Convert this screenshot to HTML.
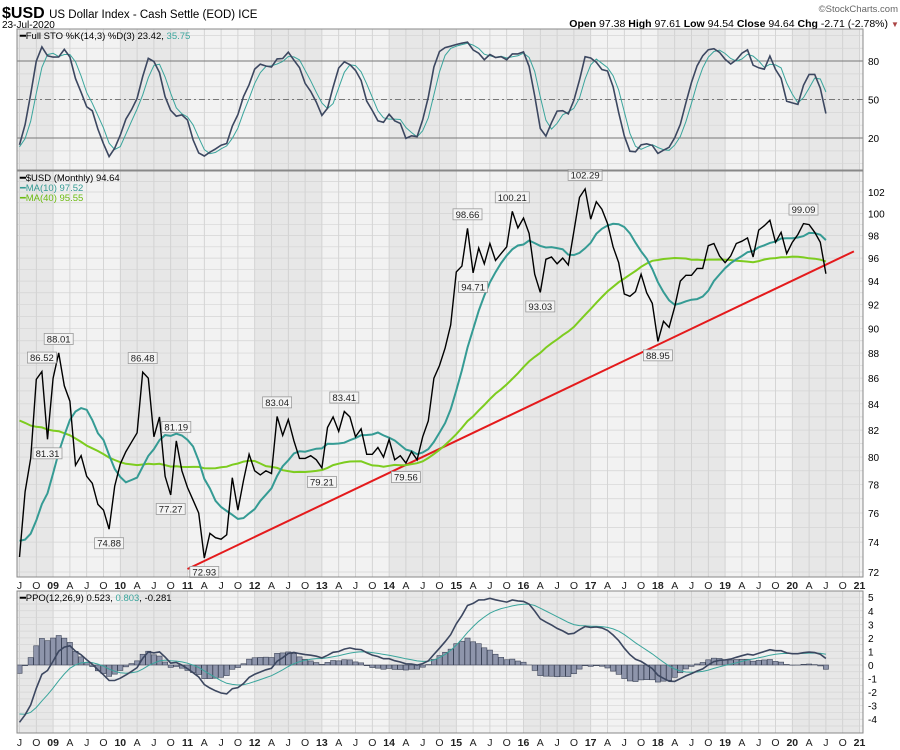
<!DOCTYPE html>
<html><head><meta charset="utf-8"><style>
html,body{margin:0;padding:0;background:#fff;width:900px;height:750px;overflow:hidden}
svg{display:block;font-family:"Liberation Sans",sans-serif}
</style></head><body>
<svg id="chart" width="900" height="750" viewBox="0 0 900 750">
<g>
<text x="2" y="18" font-size="16" font-weight="bold">$USD <tspan font-size="11.5" font-weight="normal">US Dollar Index - Cash Settle (EOD) ICE</tspan></text>
<text x="2" y="28" font-size="10">23-Jul-2020</text>
<text x="898" y="12" font-size="9.5" fill="#666" text-anchor="end">©StockCharts.com</text>
<text x="888" y="27" font-size="10.5" text-anchor="end"><tspan font-weight="bold">Open</tspan> 97.38  <tspan font-weight="bold">High</tspan> 97.61  <tspan font-weight="bold">Low</tspan> 94.54  <tspan font-weight="bold">Close</tspan> 94.64  <tspan font-weight="bold">Chg</tspan> -2.71 (-2.78%)</text>
<text x="891" y="27" font-size="8" fill="#a44">▼</text>
</g>
<g id="layer"></g>
</svg>
<script>
// Monthly closes Mar 2005 - Jun 2008 (for indicator warm-up)
const preCloses=[84.3,84.9,88.1,89.5,88.3,87.6,89.3,89.9,91.3,90.6,89.0,90.1,89.6,86.0,84.7,85.3,85.0,85.0,85.9,85.2,82.8,83.7,84.8,83.9,82.9,81.7,82.3,81.7,80.4,80.8,78.0,76.6,75.9,76.7,75.2,73.7,71.7,72.8,72.7,72.5];
// Monthly closes Jul 2008 - Jul 2020
const closes=[73.0,77.5,79.9,85.9,86.52,81.31,86.0,88.01,85.4,84.2,79.4,80.1,78.6,78.1,76.6,76.2,74.88,77.9,79.5,80.4,81.1,81.8,86.48,86.0,81.5,83.0,78.6,77.27,81.19,79.0,77.8,76.9,76.0,72.93,74.6,74.3,74.2,74.5,78.5,76.2,78.3,80.2,79.0,78.7,79.0,78.8,83.04,81.6,82.8,81.2,79.9,79.9,80.1,79.8,79.21,82.2,83.0,81.9,83.41,83.0,81.5,82.1,80.2,80.2,80.7,80.0,81.3,79.8,80.1,79.56,80.4,79.8,81.5,82.7,86.0,87.0,88.4,90.3,94.8,95.3,98.66,94.71,96.9,95.5,97.3,95.8,96.4,97.0,100.21,98.7,99.6,98.2,94.6,93.03,95.9,96.1,95.5,96.0,95.4,98.4,101.5,102.29,99.5,101.1,100.4,99.1,97.0,95.6,92.9,92.7,93.1,94.6,93.0,92.1,88.95,90.6,90.1,91.8,94.0,94.5,94.5,95.1,95.1,97.1,97.3,96.2,95.6,96.2,97.3,97.5,97.8,96.1,98.5,98.9,99.4,97.4,98.3,96.4,97.4,98.1,99.09,99.0,98.3,97.4,94.64];
// annotated points: index, position
const labelIdx=[4,5,7,16,22,27,28,33,46,54,58,69,80,81,88,93,101,114,140];
const labelPos=['a','b','a','b','a','b','a','b','a','b','a','b','a','b','a','b','a','b','a'];
// trendline endpoints [monthIndex, price]
const trendStart=[30,72.2];
const trendEnd=[149,96.6];
const priceTicks=[72,74,76,78,80,82,84,86,88,90,92,94,96,98,100,102];
const stoTicks=[20,50,80];
const ppoTicks=[-4,-3,-2,-1,0,1,2,3,4,5];
const qLabels=['J','O','09','A','J','O','10','A','J','O','11','A','J','O','12','A','J','O','13','A','J','O','14','A','J','O','15','A','J','O','16','A','J','O','17','A','J','O','18','A','J','O','19','A','J','O','20','A','J','O','21'];

const NS='http://www.w3.org/2000/svg';
const L=document.getElementById('layer');
function el(t,a,p){const e=document.createElementNS(NS,t);for(const k in a)e.setAttribute(k,a[k]);(p||L).appendChild(e);return e;}
const X0=17,X1=863;
const x=i=>19.5+i*5.6;
const yP=p=>572-Math.log(p/72)/Math.log(102/72)*380;
const yS=v=>163.7-v*1.283;
const yO=v=>665-v*13.56;

// indicators
const all=preCloses.concat(closes), off=preCloses.length;
function sma(n,i){let s=0;for(let k=i-n+1;k<=i;k++)s+=all[k];return s/n;}
const ma10=closes.map((c,i)=>sma(10,i+off));
const ma40=closes.map((c,i)=>sma(40,i+off));
const fastK=all.map((c,i)=>{if(i<13)return 50;const w=all.slice(i-13,i+1);const mn=Math.min(...w)*0.99,mx=Math.max(...w)*1.01;return (c-mn)/(mx-mn)*100;});
const sm3=a=>a.map((v,i)=>i<2?v:(a[i]+a[i-1]+a[i-2])/3);
const fullK=sm3(fastK), fullD=sm3(fullK);
function ema(a,n){const k=2/(n+1);const r=[];a.forEach((v,i)=>r.push(i?v*k+r[i-1]*(1-k):v));return r;}
const e12=ema(all,12),e26=ema(all,26);
const ppo=all.map((v,i)=>(e12[i]-e26[i])/e26[i]*100);
const sig=ema(ppo,9);

function panel(name,y0,y1){
  const g=el('g',{});
  
  
  el('rect',{x:X0,y:y0,width:X1-X0,height:y1-y0,fill:'#f2f2f2'},g);
  for(let yr=0;yr<13;yr++){if(yr%2===0){const a=Math.max(X0,x(-6+yr*12)),b=Math.min(X1,x(6+yr*12));if(b>a)el('rect',{x:a,y:y0,width:b-a,height:y1-y0,fill:'#e7e7e7'},g);}}
  for(let i=0;i<=150;i+=3){el('line',{x1:x(i),x2:x(i),y1:y0,y2:y1,stroke:'#cdcdcd','stroke-width':0.8},g);}
  return g;
}
function clip(id,y0,y1){const d=el('clipPath',{id:id});el('rect',{x:X0,y:y0,width:X1-X0,height:y1-y0},d);}
clip('c1',29,170);clip('c2',171,577);clip('c3',591,733);

// STO panel
const g1=panel('stochastic-panel',29,170);
for(let v=0;v<=100;v+=10)el('line',{x1:X0,x2:X1,y1:yS(v),y2:yS(v),stroke:'#d6d6d6','stroke-width':0.7},g1);
stoTicks.forEach(v=>{el('line',{x1:X0,x2:X1,y1:yS(v),y2:yS(v),stroke:'#777','stroke-width':1,'stroke-dasharray':v===50?'6,3,2,3':''},g1);const t=el('text',{x:868,y:yS(v)+4,'font-size':10},g1);t.textContent=v;});
const pts=(arr,o,yf)=>closes.map((c,i)=>x(i)+','+yf(arr[i+o]).toFixed(1)).join(' ');
const gs=el('g',{'clip-path':'url(#c1)'},g1);
const sd=el('polyline',{points:pts(fullD,off,yS),fill:'none',stroke:'#3aa59c','stroke-width':1},gs);

const sk=el('polyline',{points:pts(fullK,off,yS),fill:'none',stroke:'#3c4760','stroke-width':1.6},gs);

el('rect',{x:X0,y:29,width:X1-X0,height:141,fill:'none',stroke:'#888'},g1);
const lt1=el('text',{x:20,y:39,'font-size':9.5},g1);lt1.innerHTML='<tspan font-weight="bold">━</tspan>Full STO %K(14,3) %D(3) 23.42, <tspan fill="#3aa59c">35.75</tspan>';


// Price panel
const g2=panel('price-panel',171,577);
for(let p=72;p<=103;p++)el('line',{x1:X0,x2:X1,y1:yP(p),y2:yP(p),stroke:'#d4d4d4','stroke-width':0.7},g2);
priceTicks.forEach(p=>{const t=el('text',{x:868,y:yP(p)+4,'font-size':10},g2);t.textContent=p;});
const gp=el('g',{'clip-path':'url(#c2)'},g2);
const tl=el('line',{x1:x(trendStart[0]),y1:yP(trendStart[1]),x2:x(trendEnd[0]),y2:yP(trendEnd[1]),stroke:'#e41a1c','stroke-width':2},gp);

const m40=el('polyline',{points:closes.map((c,i)=>x(i)+','+yP(ma40[i]).toFixed(1)).join(' '),fill:'none',stroke:'#7dcc1f','stroke-width':2},gp);

const m10=el('polyline',{points:closes.map((c,i)=>x(i)+','+yP(ma10[i]).toFixed(1)).join(' '),fill:'none',stroke:'#359b94','stroke-width':2},gp);

const pl=el('polyline',{points:closes.map((c,i)=>x(i)+','+yP(c).toFixed(1)).join(' '),fill:'none',stroke:'#000','stroke-width':1.4},gp);

labelIdx.forEach((idx,k)=>{
  const v=closes[idx],above=labelPos[k]==='a';
  const cx=x(idx),cy=yP(v)+(above?-14:14);
  const g=el('g',{},g2);
  
  
  const s=v.toFixed(2),w=s.length*5+4;
  el('rect',{x:cx-w/2,y:cy-5.5,width:w,height:11,fill:'#f4f4f4',stroke:'#999','stroke-width':0.8},g);
  const t=el('text',{x:cx,y:cy+3.5,'font-size':9.5,'text-anchor':'middle',fill:'#222'},g);t.textContent=s;
});
el('rect',{x:X0,y:171,width:X1-X0,height:406,fill:'none',stroke:'#888'},g2);
const lt2=el('text',{x:20,y:181,'font-size':9.5},g2);lt2.innerHTML='<tspan font-weight="bold">━</tspan>$USD (Monthly) 94.64';

const lt3=el('text',{x:20,y:191,'font-size':9.5,fill:'#359b94'},g2);lt3.textContent='━MA(10) 97.52';

const lt4=el('text',{x:20,y:201,'font-size':9.5,fill:'#6cbb10'},g2);lt4.textContent='━MA(40) 95.55';


// PPO panel
const g3=panel('ppo-panel',591,733);
for(let v=-5;v<=5;v+=0.5)el('line',{x1:X0,x2:X1,y1:yO(v),y2:yO(v),stroke:'#d6d6d6','stroke-width':0.7},g3);
ppoTicks.forEach(v=>{const t=el('text',{x:868,y:yO(v)+4,'font-size':10},g3);t.textContent=v;});
const go=el('g',{'clip-path':'url(#c3)'},g3);
closes.forEach((c,i)=>{const h=ppo[i+off]-sig[i+off];const y0=yO(0),y1=yO(h);
  const b=el('rect',{x:x(i)-2.6,y:Math.min(y0,y1),width:5.2,height:Math.abs(y1-y0),fill:'#8e95ab',stroke:'#3c4458','stroke-width':0.6},go);
  });
const ps=el('polyline',{points:pts(sig,off,yO),fill:'none',stroke:'#3aa59c','stroke-width':1},go);

const pp=el('polyline',{points:pts(ppo,off,yO),fill:'none',stroke:'#3c4760','stroke-width':1.6},go);

el('rect',{x:X0,y:591,width:X1-X0,height:142,fill:'none',stroke:'#888'},g3);
const lt5=el('text',{x:20,y:601,'font-size':9.5},g3);lt5.innerHTML='<tspan font-weight="bold">━</tspan>PPO(12,26,9) 0.523, <tspan fill="#3aa59c">0.803</tspan>, -0.281';


// x-axis labels
[589,746].forEach((yy,r)=>{
  const g=el('g',{});
  
  
  qLabels.forEach((s,k)=>{const t=el('text',{x:x(k*3),y:yy,'font-size':10.5,'text-anchor':'middle','font-weight':/\d/.test(s)?'bold':'normal',fill:'#222'},g);t.textContent=s;});
});
</script>
</body></html>
